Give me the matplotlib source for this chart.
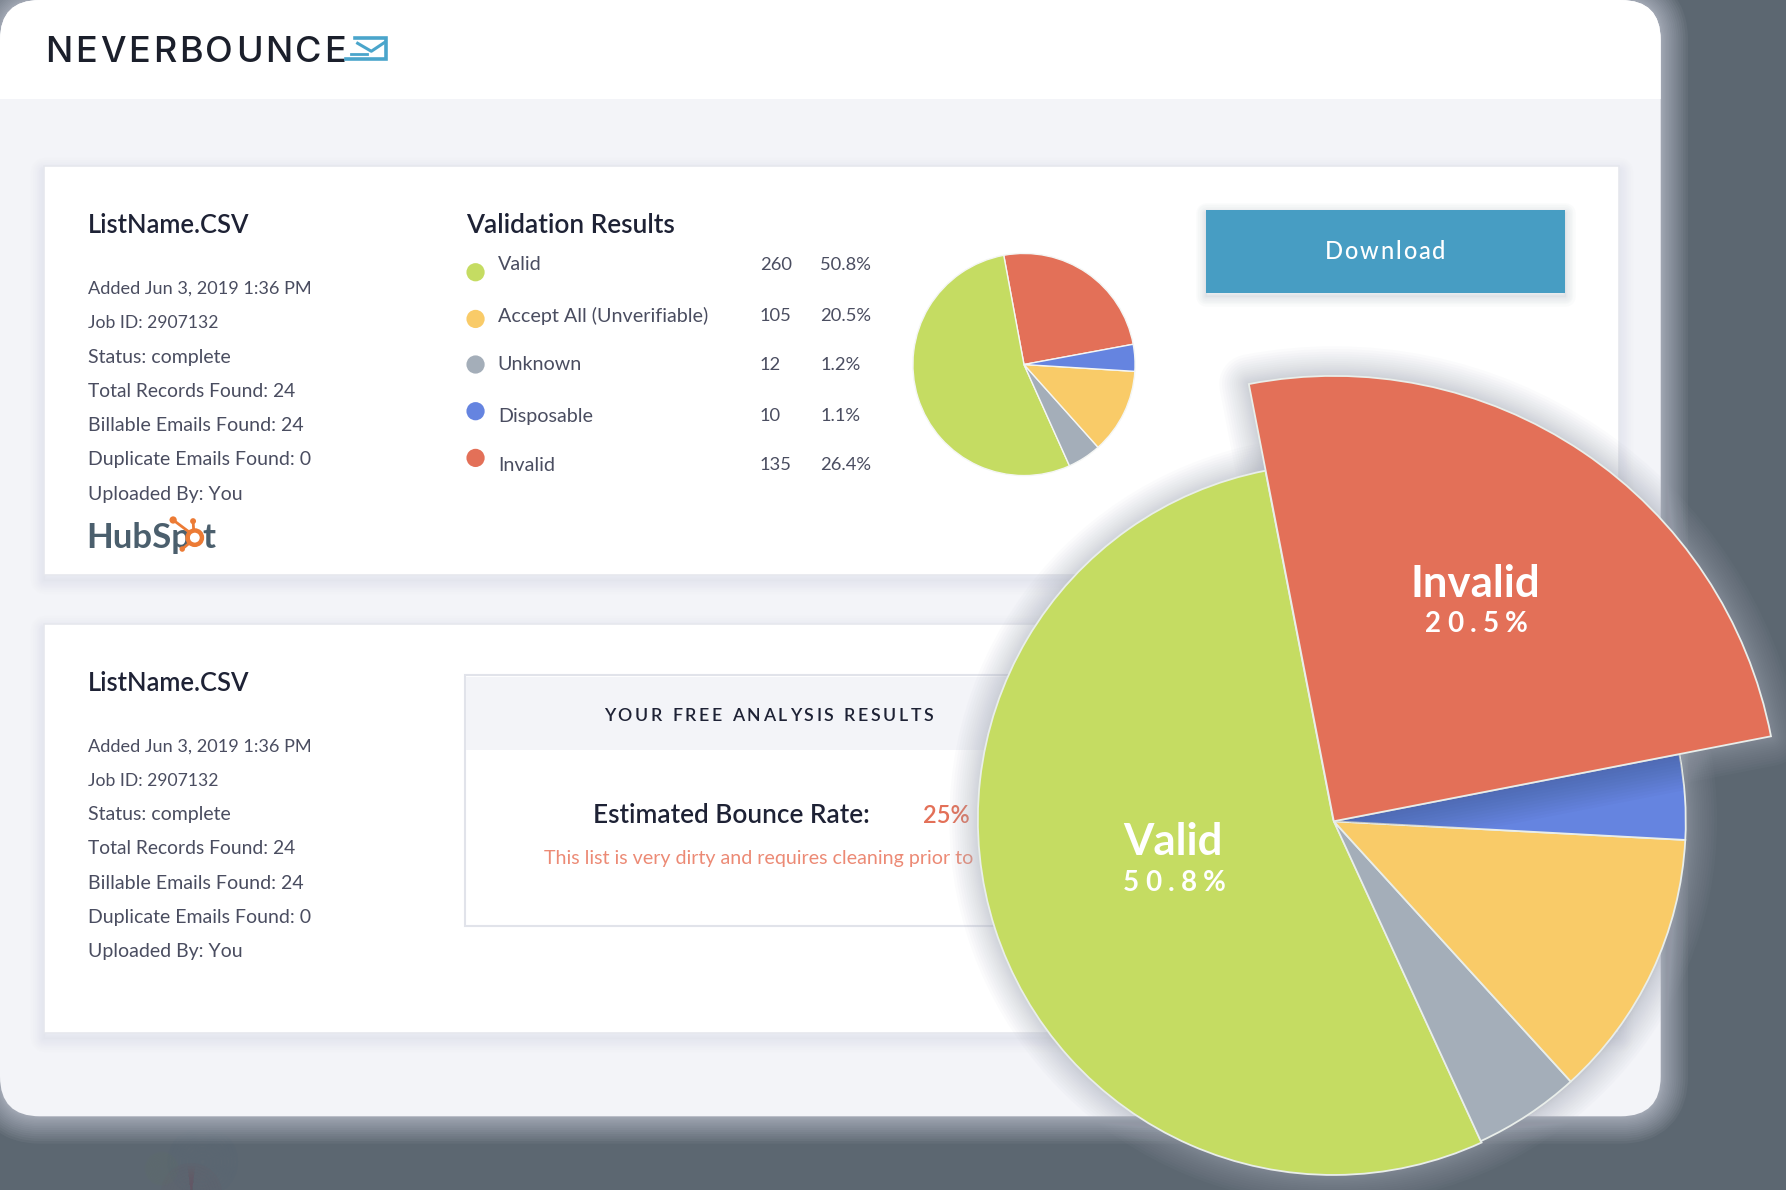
import matplotlib
matplotlib.use("Agg")
import matplotlib.pyplot as plt
from matplotlib.patches import FancyBboxPatch, Rectangle, Circle, Wedge
from matplotlib.font_manager import FontProperties

# ---- data -------------------------------------------------------------
file_name = "ListName.CSV"
file_details = ["Added Jun 3, 2019 1:36 PM", "Job ID: 2907132", "Status: complete",
                "Total Records Found: 24", "Billable Emails Found: 24",
                "Duplicate Emails Found: 0", "Uploaded By: You"]
legend_names = ["Valid", "Accept All (Unverifiable)", "Unknown", "Disposable", "Invalid"]
legend_counts = ["260", "105", "12", "10", "135"]
legend_pcts = ["50.8%", "20.5%", "1.2%", "1.1%", "26.4%"]
legend_colors = ["#C5DC62", "#F9CB68", "#A4AEB9", "#6584E0", "#E37058"]
# slice shares as drawn in the picture (counter-clockwise from Invalid)
pie_names = ["Invalid", "Valid", "Unknown", "Accept All", "Disposable"]
pie_shares = [25.0, 53.8, 4.9, 12.4, 3.9]
pie_colors = ["#E37058", "#C5DC62", "#A4AEB9", "#F9CB68", "#6584E0"]

W, H = 1568.0, 1044.7
BG, PANEL = "#5C6771", "#F3F4F8"
INK, BODY = "#1E2235", "#4A4D60"
FONT = "Lato"

fig = plt.figure(figsize=(17.86, 11.90), dpi=100, facecolor=BG)
ax = fig.add_axes([0, 0, 1, 1])
ax.set_facecolor(BG)
Y = lambda y: H - y


def glow(make, width, color, total, z, n=18, clip=None, power=1.7):
    a = 1 - (1 - total) ** (1 / n)
    for i in range(n):
        w = width * (1 - i / n) ** power
        p = make()
        p.set(fc="none", ec=color, lw=w * 2 * 1.139 * 0.72, alpha=a, zorder=z, joinstyle="round")
        ax.add_patch(p)
        if clip is not None:
            p.set_clip_path(clip)


def rbox(x0, y0, x1, y1, r=0.0):
    return FancyBboxPatch((x0, Y(y1)), x1 - x0, y1 - y0,
                          boxstyle=f"round,pad=0,rounding_size={r}" if r else "square,pad=0")


def txt(x, y, s, size, color=BODY, weight="normal", ha="left", z=3):
    return ax.text(x, Y(y), s, fontsize=size, color=color, fontweight=weight,
                   ha=ha, va="center_baseline", family=FONT, zorder=z)


def spaced(x, y, s, size, gap, color, weight="normal", z=3, family=FONT, center=False):
    prop = FontProperties(family=family, size=size, weight=weight)
    r = fig.canvas.get_renderer()
    k = 1568 / 1786
    adv = []
    for c in s:
        if c == " ":
            adv.append(size * 100 / 72 * 0.28 * k)
        else:
            adv.append(r.get_text_width_height_descent(c, prop, False)[0] * k)
    total = sum(adv) + gap * (len(s) - 1)
    if center:
        x -= total / 2
    for c, a in zip(s, adv):
        if c != " ":
            ax.text(x, Y(y), c, fontproperties=prop, color=color, ha="left", va="center_baseline", zorder=z)
        x += a + gap


# ---- page --------------------------------------------------------------
glow(lambda: rbox(0, 0, 1458, 980, 35), 24, "#C9CDD9", 0.72, 1)
panel = rbox(0, 0, 1458, 980, 35)
panel.set(fc=PANEL, ec="none", zorder=1.2)
ax.add_patch(panel)
hdr = Rectangle((0, Y(87)), 1458, 87, fc="white", ec="none", zorder=1.3)
ax.add_patch(hdr)
hdr.set_clip_path(panel)

# faint blurred remains below the panel
for (cx, cy, rad, col) in [(178, 1020, 30, "#465B72"), (168, 1048, 26, "#7A4A5A"), (142, 1026, 14, "#5F7A60")]:
    glow(lambda: Circle((cx, Y(cy)), 1), rad, col, 0.5, 0.5, n=10, power=1.0)

for (y0, y1) in [(146, 505), (548, 907)]:
    glow(lambda: rbox(39, y0 + 4, 1421, y1 + 4), 12, "#C9CCD8", 0.28, 1.4, n=10)
    c = rbox(39, y0, 1421, y1)
    c.set(fc="white", ec="#E6E8EE", lw=1.2, zorder=1.5)
    ax.add_patch(c)

# logo
spaced(40, 43, "NEVERBOUNCE", 26, 2.4, "#1B1F2B", weight="medium", family="Inter")
LOGO = "#4AA5CB"
ax.plot([312, 339, 339, 304], [Y(33.5), Y(33.5), Y(52), Y(52)], color=LOGO, lw=2.6, zorder=3, solid_joinstyle="miter")
ax.plot([314, 326, 338], [Y(38), Y(45), Y(37)], color=LOGO, lw=2.2, zorder=3)
ax.plot([308, 322], [Y(47.5), Y(47.5)], color=LOGO, lw=2, zorder=3)

# file details
detail_sizes = [13.07, 12.6, 14.0, 13.9, 14.1, 14.05, 14.0]
for (title_y, first) in [(196, 253), (598, 654.5)]:
    txt(77, title_y, file_name, 18.4, INK, "semibold")
    for i, line in enumerate(file_details):
        txt(77, first + 30 * i - 0.5, line, detail_sizes[i])

# HubSpot
HS = "#4B5F6D"
txt(76, 470, "HubSp", 25, HS, "bold")
txt(178, 470, "t", 25, HS, "bold")
OR = "#EC7B35"
ax.add_patch(Circle((171, Y(472)), 6.3, fc="none", ec=OR, lw=3.2, zorder=4))
ax.plot([152, 166], [Y(456.5), Y(467)], color=OR, lw=2, zorder=4)
ax.plot([169.5, 170], [Y(457), Y(465)], color=OR, lw=2, zorder=4)
ax.plot([160, 166], [Y(482), Y(477)], color=OR, lw=2, zorder=4)
for (px, py, pr) in [(152, 456.5, 3.2), (169.5, 457.5, 2.6), (160, 482, 2.4)]:
    ax.add_patch(Circle((px, Y(py)), pr, fc=OR, ec="none", zorder=4))

# results table
txt(409, 196, "Validation Results", 18.9, INK, "semibold")
dot_y = [239, 280, 320, 361, 402]
row_y = [231, 276, 319, 364, 407]
for name, cnt, pct, col, dy, ry in zip(legend_names, legend_counts, legend_pcts, legend_colors, dot_y, row_y):
    ax.add_patch(Circle((417.5, Y(dy)), 8, fc=col, ec="none", zorder=3))
    txt(437, ry, name, 14.2)
    txt(667, ry, cnt, 13.2)
    txt(720, ry, pct, 13.2)

# download button
glow(lambda: rbox(1059, 187, 1374, 260), 9, "#9AA4B5", 0.30, 1.8, n=8)
b = rbox(1059, 184, 1374, 257)
b.set(fc="#479DC3", ec="none", zorder=2)
ax.add_patch(b)
spaced(1216, 219, "Download", 17, 1.7, "white", weight="medium", z=3, center=True)

# analysis box
box = rbox(408, 593, 1000, 813)
box.set(fc="white", ec="#E1E3EA", lw=1.5, zorder=1.7)
ax.add_patch(box)
hb = rbox(409, 594, 1000, 658)
hb.set(fc=PANEL, ec="none", zorder=1.8)
ax.add_patch(hb)
spaced(530, 627, "YOUR FREE ANALYSIS RESULTS", 12.8, 2.35, INK, weight="semibold")
txt(521, 714, "Estimated Bounce Rate:", 18.8, INK, "semibold")
txt(810, 714, "25%", 17, "#E37058", "semibold")
txt(478, 752, "This list is very dirty and requires cleaning prior to", 14.1, "#EC8A75")

# ---- pies --------------------------------------------------------------
small, _ = ax.pie(pie_shares, colors=pie_colors, startangle=10.5, center=(899, Y(320)), radius=97.5,
                  frame=True, wedgeprops=dict(ec="#F4F6F4", lw=1.0, zorder=3))

CX, CY, R = 1171, Y(721), 309
RED_R = 391
START = 11.0
big, _ = ax.pie(pie_shares, colors=pie_colors, startangle=START, center=(CX, CY), radius=R,
                frame=True, wedgeprops=dict(ec="#E9EEEA", lw=1.3, zorder=6))
red, green, blue = big[0], big[1], big[4]
red.set_radius(RED_R)
red.set_zorder(8)
green.set_center((CX - 0.5, CY + 1.5))
green.set_radius(R + 3)
t1, t2 = red.theta1, red.theta2
GLOW = "#A9AEBB"
glow(lambda: Circle((CX - 0.5, CY + 1), R + 2), 26, GLOW, 0.55, 5)
glow(lambda: Wedge((CX, CY), RED_R, t1, t2), 26, GLOW, 0.55, 5)
glow(lambda: Wedge((CX, CY), RED_R, t1, t2), 32, "#30395A", 0.30, 7, n=12, clip=blue, power=1.0)

txt(1295, 509.5, "Invalid", 31.5, "white", "bold", ha="center", z=9)
spaced(1296, 546, "20.5%", 20, 5.4, "white", weight="bold", z=9, center=True)
txt(1030, 736.5, "Valid", 31.5, "white", "bold", ha="center", z=9)
spaced(1031, 773, "50.8%", 20, 5.4, "white", weight="bold", z=9, center=True)

ax.set_xlim(0, W)
ax.set_ylim(0, H)
ax.set_aspect("auto")
ax.axis("off")
fig.savefig("out.png", dpi=100, facecolor=BG)
